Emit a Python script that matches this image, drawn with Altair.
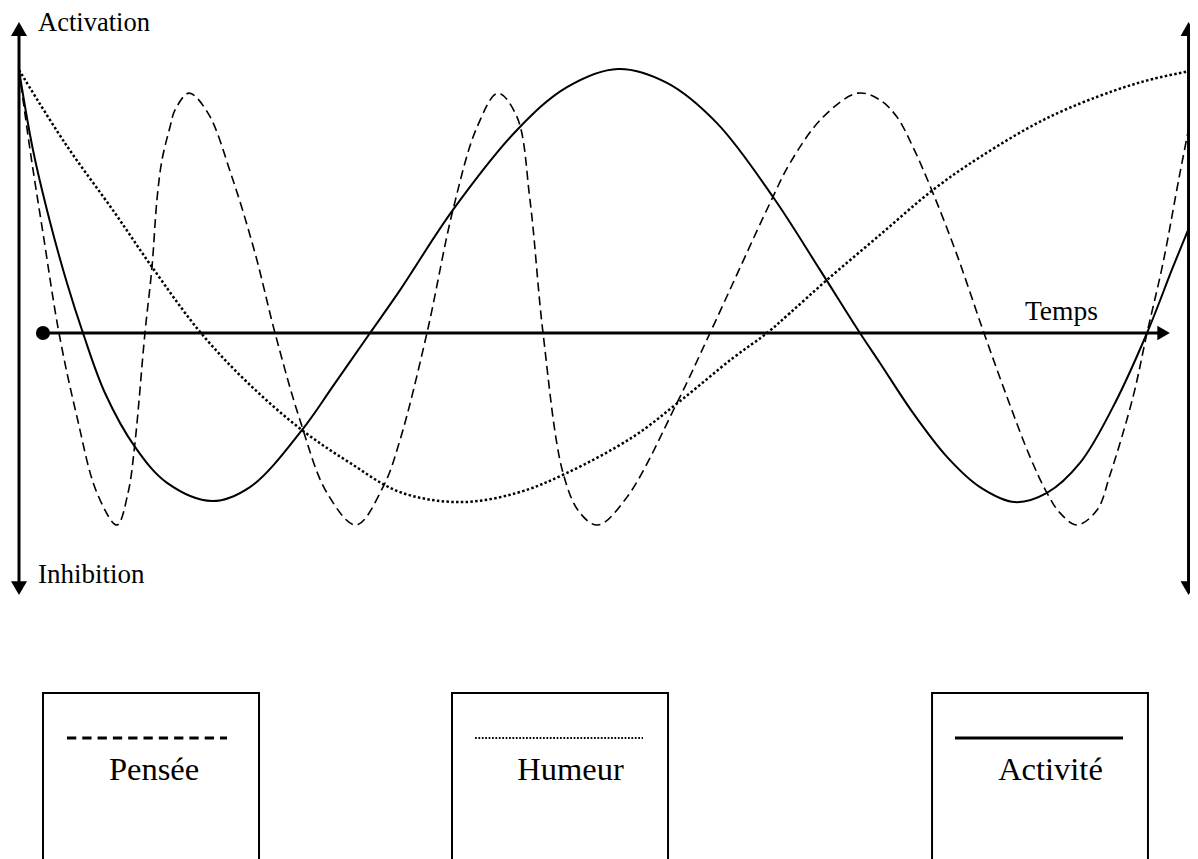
import altair as alt
import pandas as pd

# ---- curves: time (0 = left axis, 100 = right axis), level (0 = time axis, 100 = start level)
act_t = [0, 1.19, 2.64, 4.08, 5.44, 7.31, 9.86, 12.59, 16.41, 19.64, 24.06, 26.70, 29.85, 32.40,
         36.90, 42.35, 46.60, 50.94, 55.10, 59.35, 64.12, 68.11, 71.51, 73.21, 76.02, 78.91,
         81.72, 84.69, 87.41, 90.22, 93.03, 95.92, 98.13, 100]
act_v = [100, 69.6, 42.2, 19.0, 0, -22.8, -43.3, -57.0, -63.9, -58.6, -36.9, -20.2, 0, 16.3,
         46.8, 77.2, 93.5, 100.4, 95.1, 79.8, 51.7, 24.0, 0, -11.4, -30.4, -47.1,
         -58.6, -64.3, -60.8, -49.4, -28.1, 0, 25.1, 45.6]

pen_t = [0, 0.94, 2.04, 3.40, 4.93, 6.63, 8.33, 9.27, 9.86, 10.71, 11.31, 11.73, 12.16, 12.84,
         13.27, 14.46, 16.07, 18.11, 20.07, 21.77, 23.89, 26.19, 28.66, 30.95, 32.40, 34.69,
         36.90, 38.95, 40.73, 42.35, 43.45, 44.56, 46.26, 47.70, 49.23, 51.70, 55.95, 58.76,
         63.86, 65.56, 68.37, 71.34, 73.21, 74.66, 76.02, 77.72, 79.76, 81.97, 84.01, 85.97,
         87.41, 88.52, 89.97, 91.67, 92.77, 94.73, 95.92, 97.28, 98.72, 100]
pen_v = [100, 69.6, 38.0, 0, -31.9, -60.8, -73.0, -60.8, -41.8, 0, 25.1, 50.6, 65.8, 78.3,
         84.8, 91.2, 83.6, 59.3, 30.4, 0, -33.1, -60.8, -73.0, -58.6, -40.7, 0,
         46.8, 78.3, 91.2, 82.1, 50.6, 0, -53.2, -68.4, -73.0, -62.4, -26.6, 0,
         49.4, 64.6, 82.1, 91.2, 88.6, 82.1, 70.7, 53.2, 29.7, 1.1, -24.3, -47.1,
         -60.8, -68.4, -73.0, -67.3, -54.0, -24.3, 0, 26.6, 60.8, 89.7]

hum_t = [0, 3.91, 8.16, 11.31, 15.47, 19.56, 24.06, 28.15, 32.40, 37.50, 42.35, 46.60, 52.21,
         56.21, 60.71, 63.61, 65.56, 68.71, 73.21, 77.72, 81.72, 87.41, 93.03, 96.43, 100]
hum_v = [100, 72.2, 45.6, 25.1, 0, -19.4, -36.9, -49.4, -60.5, -64.3, -60.8, -53.2, -39.5,
         -25.9, -9.5, 0, 7.6, 20.2, 37.3, 54.4, 66.9, 81.7, 92.0, 96.6, 100]

# ---- diagram frame
vaxis_t = [0, 99.45]
vaxis_top = 116.0
vaxis_bottom = -97.0
arrow_up_v = 115.6
arrow_down_v = -97.0
time_start_t = 2.04
time_end_t = 96.9
time_arrow_t = 97.33

# ---- labels
label_text = ["Activation", "Inhibition", "Temps"]
label_t = [1.62, 1.62, 85.54]
label_v = [114.8, -95.1, 4.9]
label_size = [26.5, 27, 27.5]

legend_names = ["Pensée", "Humeur", "Activité"]
legend_box_t1 = [2.04, 36.82, 77.64]
legend_box_t2 = [20.41, 55.19, 96.00]
legend_box_top = -136.9
legend_box_bottom = -215.0
legend_line_t1 = [4.08, 38.78, 79.59]
legend_line_t2 = [17.69, 53.06, 93.88]
legend_line_v = -154.0
legend_text_t = [11.48, 46.9, 87.71]
legend_text_v = -170.0

FONT = "Liberation Serif"
W, H = 1182, 851
XS = alt.Scale(domain=[-11 / 11.76, (W - 11) / 11.76], nice=False, zero=False)
YS = alt.Scale(domain=[(325 - H) / 2.63, 325 / 2.63], nice=False, zero=False)


def X(f="t"):
    return alt.X(f, type="quantitative", scale=XS, axis=None)


def Y(f="v"):
    return alt.Y(f, type="quantitative", scale=YS, axis=None)


act = pd.DataFrame({"t": act_t, "v": act_v})
pen = pd.DataFrame({"t": pen_t, "v": pen_v})
hum = pd.DataFrame({"t": hum_t, "v": hum_v})

layers = []

# vertical axes
vax = pd.DataFrame({"t": vaxis_t, "v": [vaxis_top] * 2, "v2": [vaxis_bottom] * 2})
layers.append(alt.Chart(vax).mark_rule(color="black", strokeWidth=3).encode(
    x=X(), y=Y("v"), y2="v2"))
ups = pd.DataFrame({"t": vaxis_t, "v": [arrow_up_v] * 2})
layers.append(alt.Chart(ups).mark_point(shape="triangle-up", filled=True, color="black",
                                        size=256, opacity=1).encode(x=X(), y=Y()))
downs = pd.DataFrame({"t": vaxis_t, "v": [arrow_down_v] * 2})
layers.append(alt.Chart(downs).mark_point(shape="triangle-down", filled=True, color="black",
                                          size=256, opacity=1).encode(x=X(), y=Y()))

# time axis
tax = pd.DataFrame({"t": [time_start_t], "t2": [time_end_t], "v": [0]})
layers.append(alt.Chart(tax).mark_rule(color="black", strokeWidth=3).encode(
    x=X(), x2="t2", y=Y()))
layers.append(alt.Chart(pd.DataFrame({"t": [time_start_t], "v": [0]})).mark_point(
    shape="circle", filled=True, color="black", size=200, opacity=1).encode(x=X(), y=Y()))
layers.append(alt.Chart(pd.DataFrame({"t": [time_arrow_t], "v": [0]})).mark_point(
    shape="triangle-right", filled=True, color="black", size=210, opacity=1).encode(x=X(), y=Y()))

# curves
layers.append(alt.Chart(pen).mark_line(color="black", strokeWidth=1.6, strokeDash=[9, 5],
                                       interpolate="catmull-rom").encode(x=X(), y=Y()))
layers.append(alt.Chart(hum).mark_line(color="black", strokeWidth=2.5, strokeDash=[2.5, 2.3],
                                       interpolate="catmull-rom").encode(x=X(), y=Y()))
layers.append(alt.Chart(act).mark_line(color="black", strokeWidth=2,
                                       interpolate="catmull-rom").encode(x=X(), y=Y()))

# labels
lab = pd.DataFrame({"t": label_t, "v": label_v, "txt": label_text})
for i in range(len(label_text)):
    layers.append(alt.Chart(lab.iloc[[i]]).mark_text(
        font=FONT, fontSize=label_size[i], align="left", baseline="alphabetic",
        color="black").encode(x=X(), y=Y(), text="txt:N"))

# legend boxes
boxes = pd.DataFrame({"t": legend_box_t1, "t2": legend_box_t2,
                      "v": [legend_box_top] * 3, "v2": [legend_box_bottom] * 3})
layers.append(alt.Chart(boxes).mark_rect(fillOpacity=0, stroke="black", strokeWidth=2).encode(
    x=X(), x2="t2", y=Y(), y2="v2"))

dash_styles = [[9.3, 6], [1.7, 1.7], [1, 0]]
widths = [3, 2, 3]
for i in range(3):
    seg = pd.DataFrame({"t": [legend_line_t1[i], legend_line_t2[i]], "v": [legend_line_v] * 2})
    mk = dict(color="black", strokeWidth=widths[i])
    if i < 2:
        mk["strokeDash"] = dash_styles[i]
    layers.append(alt.Chart(seg).mark_line(**mk).encode(x=X(), y=Y()))

legtxt = pd.DataFrame({"t": legend_text_t, "v": [legend_text_v] * 3, "txt": legend_names})
layers.append(alt.Chart(legtxt).mark_text(font=FONT, fontSize=32.5, align="center",
                                          baseline="alphabetic", color="black").encode(
    x=X(), y=Y(), text="txt:N"))

chart = alt.layer(*layers).properties(
    width=W, height=H, padding=0,
    autosize=alt.AutoSizeParams(type="none"),
    background="white",
).configure_view(strokeWidth=0)

chart.save("out.html", embed_options={"renderer": "svg", "actions": False})
